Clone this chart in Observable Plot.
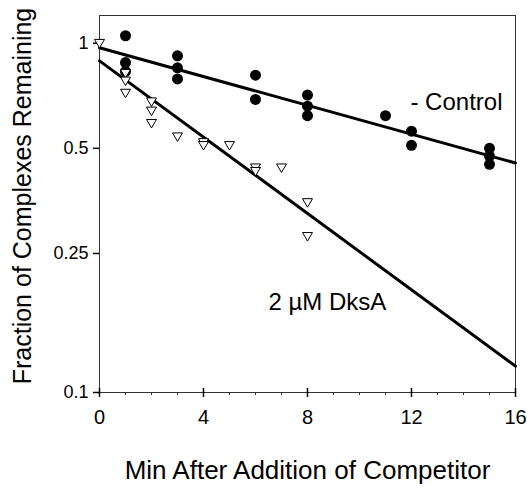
<!DOCTYPE html>
<html>
<head>
<meta charset="utf-8">
<script src="https://cdn.jsdelivr.net/npm/d3@7"></script>
<script src="https://cdn.jsdelivr.net/npm/@observablehq/plot@0.6"></script>
<style>
  html, body { margin: 0; padding: 0; background: white; }
</style>
</head>
<body>
<div id="chart"></div>
<script>
// Control (filled circles)
const ctrlX = [1, 1, 1, 3, 3, 3, 6, 6, 8, 8, 8, 11, 12, 12, 15, 15, 15];
const ctrlY = [1.05, 0.88, 0.83, 0.92, 0.85, 0.79, 0.81, 0.69, 0.71, 0.66, 0.62, 0.62, 0.56, 0.51, 0.50, 0.475, 0.45];
// 2 µM DksA (open down triangles)
const dksaX = [0, 1, 1, 1, 2, 2, 2, 3, 4, 4, 5, 6, 6, 7, 8, 8];
const dksaY = [1.0, 0.82, 0.78, 0.72, 0.68, 0.64, 0.59, 0.54, 0.52, 0.51, 0.51, 0.44, 0.43, 0.44, 0.35, 0.28];
// fitted lines (endpoints)
const ctrlFitX = [0, 16];
const ctrlFitY = [0.97, 0.454];
const dksaFitX = [0, 16];
const dksaFitY = [0.89, 0.119];
// ticks
const xTicks = [0, 4, 8, 12, 16];
const xMinor = [1, 2, 3, 5, 6, 7, 9, 10, 11, 13, 14, 15];
const yTicks = [0.1, 0.25, 0.5, 1];
// annotations
const noteText = ["- Control", "2 \u00b5M DksA"];
const noteX = [11.96, 6.5];
const noteY = [0.678, 0.181];
const xTitle = "Min After Addition of Competitor";
const yTitle = "Fraction of Complexes Remaining";

const ctrl = ctrlX.map((x, i) => ({x, y: ctrlY[i]}));
const dksa = dksaX.map((x, i) => ({x, y: dksaY[i]}));
const ctrlFit = ctrlFitX.map((x, i) => ({x, y: ctrlFitY[i]}));
const dksaFit = dksaFitX.map((x, i) => ({x, y: dksaFitY[i]}));
const notes = noteText.map((t, i) => ({t, x: noteX[i], y: noteY[i]}));

const downTriangle = {
  draw(context, size) {
    const a = Math.sqrt(size / Math.PI);
    context.moveTo(-a, -a * 0.75);
    context.lineTo(a, -a * 0.75);
    context.lineTo(0, a * 0.95);
    context.closePath();
  }
};

const chart = Plot.plot({
  width: 527,
  height: 492,
  marginLeft: 99,
  marginRight: 12,
  marginTop: 15,
  marginBottom: 100,
  style: {fontFamily: "'Liberation Sans', Arial, sans-serif", color: "black", background: "white"},
  x: {domain: [0, 16]},
  y: {type: "log", domain: [0.1, 1.2]},
  marks: [
    Plot.frame({stroke: "#333", strokeWidth: 1}),
    Plot.axisX({ticks: xMinor, tickSize: 3, tickFormat: () => "", label: null, stroke: "#333"}),
    Plot.axisX({ticks: xTicks, tickSize: 9, dy: -4, tickFormat: () => "", label: null, strokeWidth: 1.5}),
    Plot.axisX({ticks: xTicks, tickSize: 0, tickPadding: 17, fontSize: 20, label: null}),
    Plot.axisY({ticks: yTicks, tickSize: 6, tickPadding: 5, fontSize: 18, tickFormat: d => String(d), label: null, strokeWidth: 1.5}),
    Plot.line(ctrlFit, {x: "x", y: "y", stroke: "black", strokeWidth: 3}),
    Plot.line(dksaFit, {x: "x", y: "y", stroke: "black", strokeWidth: 3}),
    Plot.dot(ctrl, {x: "x", y: "y", r: 5.5, fill: "black", stroke: "none"}),
    Plot.dot(dksa, {x: "x", y: "y", r: 5, symbol: downTriangle, fill: "white", stroke: "black", strokeWidth: 1}),
    Plot.text(notes, {x: "x", y: "y", text: "t", textAnchor: "start", fontSize: 24}),
    Plot.text([xTitle], {frameAnchor: "bottom", dy: 86, fontSize: 26}),
    Plot.text([yTitle], {frameAnchor: "left", textAnchor: "middle", rotate: -90, dx: -77, dy: -8, fontSize: 25})
  ]
});
document.getElementById("chart").appendChild(chart);
</script>
</body>
</html>
